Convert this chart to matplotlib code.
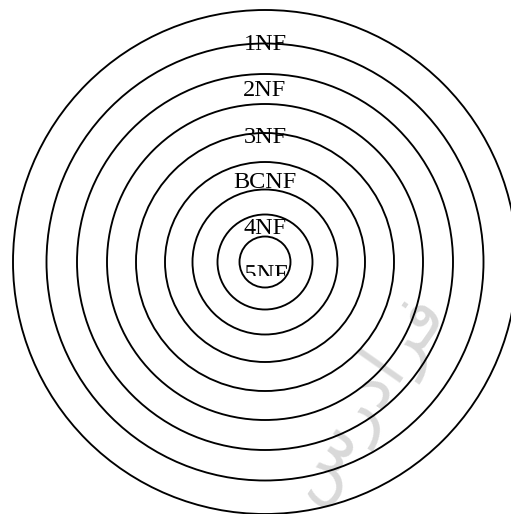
"""
Concentric normal-form rings: 1NF outermost down to 5NF at the centre.
"""
import matplotlib
matplotlib.use("Agg")
import matplotlib.pyplot as plt
from matplotlib.patches import Circle, PathPatch
from matplotlib.textpath import TextPath
from matplotlib.font_manager import FontProperties
from matplotlib.transforms import Affine2D, Bbox

# ring radii in pixels, outermost first
radii = [252, 218.5, 188, 158, 129, 100, 72.5, 47.5, 25.5]
center = (265, 262)

labels = ["1NF", "2NF", "3NF", "BCNF", "4NF", "5NF"]
label_baselines = [50, 96, 143, 188, 234, 281]

watermark = "\u0633\u0631\u062f\u0627\uFEAE\uFED3"  # faradars, pre-shaped

DPI = 100
FS = 17.5

fig = plt.figure(figsize=(5.11, 5.14), dpi=DPI)
ax = fig.add_axes([0, 0, 1, 1])
ax.set_xlim(0, 511)
ax.set_ylim(514, 0)
ax.set_aspect("equal")
ax.axis("off")

ax.text(365, 397, watermark, rotation=55, ha="center", va="center",
        fontsize=49, color="#d9d9d9", family="DejaVu Sans", zorder=0)

rings = []
for r in radii:
    c = Circle(center, r, fill=False, edgecolor="black", lw=1.35, zorder=3)
    ax.add_patch(c)
    rings.append(c)

fp = FontProperties(family="Liberation Serif", size=FS)
for lab, y in zip(labels[:-1], label_baselines[:-1]):
    ax.text(center[0], y, lab, ha="center", va="baseline",
            fontproperties=fp, zorder=2)

# innermost label is cut by its ring and its own box, as in the source,
# so draw it as a path (agg clips paths reliably)
s = DPI / 72
tp = TextPath((0, 0), labels[-1], prop=fp)
w = tp.get_extents().width
tr = Affine2D().scale(s, -s).translate(center[0] - w * s / 2, label_baselines[-1])
pp = PathPatch(tp, transform=tr + ax.transData, facecolor="black",
               edgecolor="none", zorder=2)
ax.add_patch(pp)
pp.set_clip_path(rings[-1])
pp.set_clip_box(Bbox.from_extents(0, 514 - 276, 511, 514))

fig.savefig("out.png", dpi=DPI)
